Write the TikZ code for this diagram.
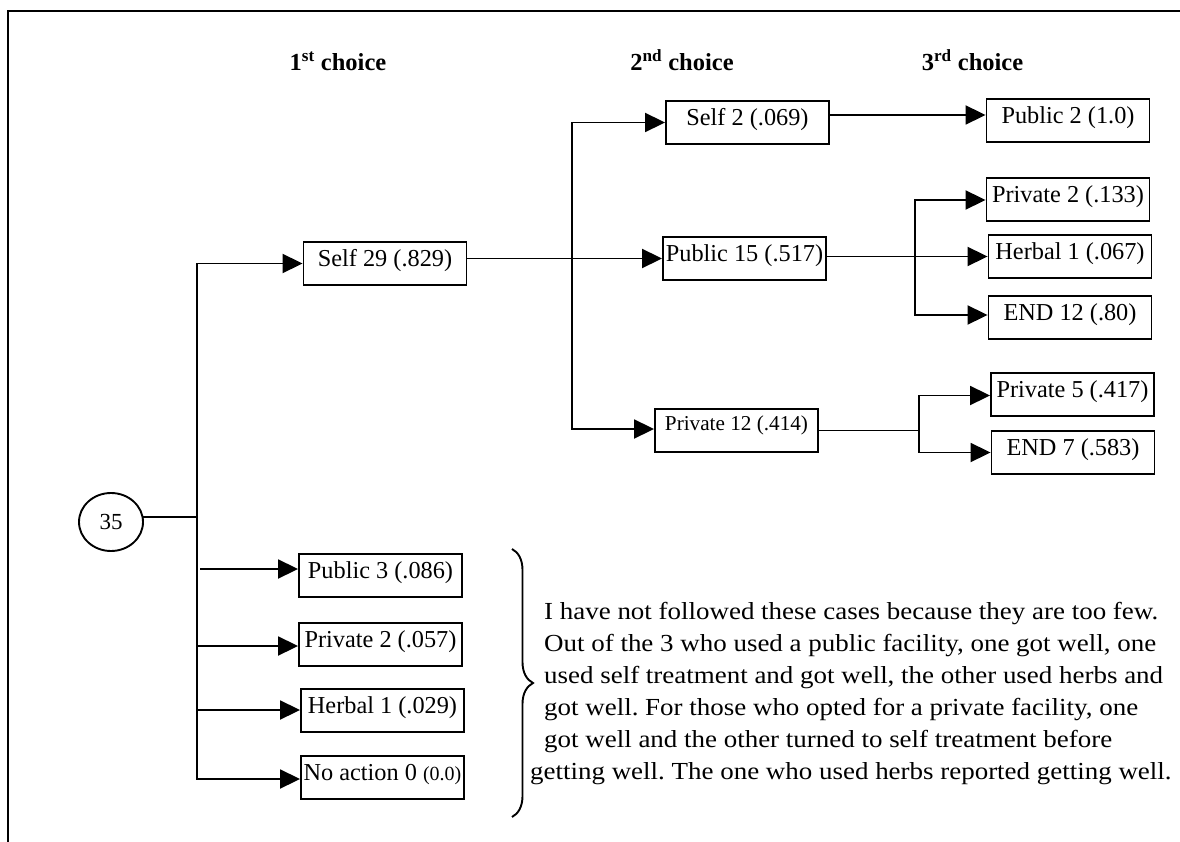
\documentclass[tikz,border=0pt]{standalone}
\usepackage{fontspec}
\setmainfont{Liberation Serif}
\newfontfamily\notefont{Liberation Serif}[FakeStretch=1.1]
\usetikzlibrary{arrows.meta,shapes.geometric,decorations.pathreplacing}
\frenchspacing
\begin{document}
\begin{tikzpicture}[x=1pt,y=-1pt,
  box/.style={draw,line width=1.9pt,minimum width=163pt,minimum height=43pt,
    inner sep=1pt,text height=17pt,text depth=11pt,
    font=\fontsize{24.3}{28}\selectfont},
  head/.style={anchor=base,font=\fontsize{24.5}{28}\selectfont\bfseries},
  link/.style={line width=1.9pt,line cap=rect},
  arr/.style={line width=1.9pt,-{Triangle[length=20pt,width=19pt]}}]
\useasboundingbox (0,0) rectangle (1180,842);

% frame
\draw[line width=2.4pt] (8,842) -- (8,11) -- (1180,11);

% column headings
\node[head] (h1) at (338,71) {1\textsuperscript{st} choice};
\node[head] (h2) at (682,71) {2\textsuperscript{nd} choice};
\node[head] (h3) at (972.5,71) {3\textsuperscript{rd} choice};

% root
\node[draw,ellipse,line width=1.9pt,minimum width=64pt,minimum height=58pt,
  inner sep=0pt,font=\fontsize{23}{26}\selectfont] (root) at (111,522) {35};

% first choice
\node[box] (s29) at (385,263.5) {Self 29 (.829)};
\node[box] (pub3) at (380.5,575.5) {Public 3 (.086)};
\node[box] (pri2a) at (380.5,644.5) {Private 2 (.057)};
\node[box] (herb1a) at (382.5,710.5) {Herbal 1 (.029)};
\node[box] (noact) at (382.5,777.5) {No action 0 {\fontsize{20}{24}\selectfont(0.0)}};

% second choice
\node[box] (s2) at (747.5,122.5) {Self 2 (.069)};
\node[box] (pub15) at (744.5,258.5) {Public 15 (.517)};
\node[box,font=\fontsize{21.2}{26}\selectfont,text height=15pt,text depth=16pt]
  (pri12) at (736.5,430.5) {Private 12 (.414)};

% third choice
\node[box] (pub2) at (1068,120.5) {Public 2 (1.0)};
\node[box] (pri2b) at (1068,199.5) {Private 2 (.133)};
\node[box] (herb1b) at (1070,256.5) {Herbal 1 (.067)};
\node[box] (end12) at (1070,317.5) {END 12 (.80)};
\node[box] (pri5) at (1072.5,394.5) {Private 5 (.417)};
\node[box] (end7) at (1073,452.5) {END 7 (.583)};

% branching points
\coordinate (t1a) at (197,263.5);
\coordinate (t1b) at (197,779);
\coordinate (j0) at (197,517);
\coordinate (b1) at (200,569);
\coordinate (b2) at (197,646);
\coordinate (b3) at (197,710);
\coordinate (t2a) at (572,122.5);
\coordinate (t2b) at (572,429);
\coordinate (t3a) at (915,200);
\coordinate (t3b) at (915,315);
\coordinate (t4a) at (919,395.5);
\coordinate (t4b) at (919,452.5);

% root to first choice
\draw[link] (root.9) -- (root.9 -| j0);
\draw[link] (t1a) -- (t1b);
\draw[arr] (t1a) -- (s29.west);
\draw[arr] (b1) -- (b1 -| pub3.west);
\draw[arr] (b2) -- (b2 -| pri2a.west);
\draw[arr] (b3) -- (b3 -| herb1a.west);
\draw[arr] (t1b) -- (t1b -| noact.west);

% self to second choice
\draw[arr] (s29.east |- pub15.west) -- (pub15.west);
\draw[link] (t2a) -- (t2b);
\draw[arr] (t2a) -- (s2.west);
\draw[arr] (t2b) -- (t2b -| pri12.west);

% second to third choice
\draw[arr] ([yshift=7.5pt]s2.east) -- ([yshift=7.5pt]s2.east -| pub2.west);
\draw[arr] (pub15.east |- herb1b.west) -- (herb1b.west);
\draw[link] (t3a) -- (t3b);
\draw[arr] (t3a) -- (t3a -| pri2b.west);
\draw[arr] (t3b) -- (t3b -| end12.west);
\draw[link] (pri12.east) -- (pri12.east -| t4a);
\draw[link] (t4a) -- (t4b);
\draw[arr] (t4a) -- (t4a -| pri5.west);
\draw[arr] (t4b) -- (end7.west);

% brace and note on the small groups
\draw[line width=1.9pt,decorate,decoration={brace,amplitude=21pt}] (512,549) -- (512,817);
\node[anchor=north west,align=left,inner sep=0pt,
  font=\notefont\fontsize{24.5}{32}\selectfont] (note) at (530,602)
  {\hspace*{14pt}I have not followed these cases because they are too few.\\
   \hspace*{14pt}Out of the 3 who used a public facility, one got well, one\\
   \hspace*{14pt}used self treatment and got well, the other used herbs and\\
   \hspace*{14pt}got well. For those who opted for a private facility, one\\
   \hspace*{14pt}got well and the other turned to self treatment before\\
   getting well. The one who used herbs reported getting well.};
\end{tikzpicture}
\end{document}
